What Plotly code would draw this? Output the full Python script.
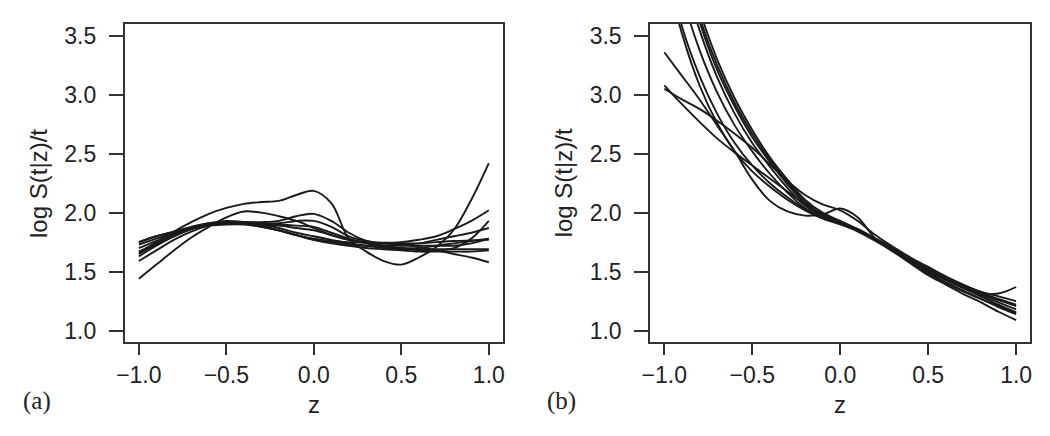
import plotly.graph_objects as go

# shared z grid
z = [-1.0, -0.9, -0.8, -0.7, -0.6, -0.5, -0.4, -0.3, -0.2, -0.1, 0.0,
     0.1, 0.2, 0.3, 0.4, 0.5, 0.6, 0.7, 0.8, 0.9, 1.0]

# panel (a) curves
a1 = [1.66, 1.75, 1.84, 1.92, 1.99, 2.04, 2.075, 2.09, 2.10, 2.15, 2.185, 2.08, 1.78, 1.67, 1.59, 1.56, 1.62, 1.71, 1.855, 2.11, 2.42]
a2 = [1.44, 1.56, 1.68, 1.79, 1.88, 1.96, 2.01, 2.00, 1.97, 1.93, 1.87, 1.81, 1.77, 1.75, 1.745, 1.75, 1.77, 1.80, 1.86, 1.93, 2.02]
a3 = [1.63, 1.72, 1.80, 1.86, 1.90, 1.92, 1.92, 1.92, 1.93, 1.97, 1.99, 1.93, 1.83, 1.76, 1.72, 1.70, 1.68, 1.68, 1.70, 1.78, 1.93]
a4 = [1.75, 1.80, 1.84, 1.88, 1.91, 1.92, 1.92, 1.91, 1.91, 1.93, 1.93, 1.88, 1.80, 1.76, 1.74, 1.73, 1.74, 1.77, 1.80, 1.83, 1.87]
a5 = [1.70, 1.76, 1.82, 1.87, 1.90, 1.92, 1.92, 1.91, 1.90, 1.89, 1.88, 1.83, 1.78, 1.74, 1.71, 1.70, 1.70, 1.72, 1.74, 1.76, 1.78]
a6 = [1.73, 1.78, 1.83, 1.87, 1.90, 1.91, 1.91, 1.90, 1.89, 1.87, 1.85, 1.81, 1.77, 1.75, 1.74, 1.73, 1.71, 1.68, 1.65, 1.62, 1.58]
a7 = [1.67, 1.74, 1.81, 1.87, 1.91, 1.93, 1.92, 1.90, 1.87, 1.83, 1.80, 1.77, 1.74, 1.72, 1.70, 1.69, 1.69, 1.69, 1.69, 1.69, 1.69]
a8 = [1.65, 1.73, 1.80, 1.86, 1.90, 1.92, 1.92, 1.89, 1.85, 1.81, 1.77, 1.75, 1.73, 1.72, 1.72, 1.72, 1.72, 1.72, 1.72, 1.74, 1.78]
a9 = [1.59, 1.68, 1.77, 1.84, 1.89, 1.91, 1.91, 1.88, 1.85, 1.81, 1.77, 1.74, 1.72, 1.70, 1.69, 1.68, 1.67, 1.67, 1.67, 1.67, 1.68]
a10 = [1.75, 1.80, 1.84, 1.87, 1.89, 1.90, 1.90, 1.88, 1.85, 1.81, 1.78, 1.76, 1.75, 1.745, 1.74, 1.74, 1.74, 1.75, 1.76, 1.765, 1.77]

# panel (b) curves
b1 = [3.36, 3.16, 2.96, 2.74, 2.52, 2.28, 2.10, 2.01, 1.975, 1.985, 2.035, 1.96, 1.78, 1.68, 1.59, 1.50, 1.43, 1.37, 1.31, 1.26, 1.21]
b2 = [3.05, 2.96, 2.88, 2.78, 2.67, 2.55, 2.41, 2.27, 2.15, 2.07, 2.02, 1.93, 1.81, 1.71, 1.62, 1.54, 1.46, 1.39, 1.33, 1.29, 1.25]
b3 = [3.08, 2.92, 2.77, 2.63, 2.51, 2.40, 2.29, 2.18, 2.07, 1.98, 1.92, 1.85, 1.77, 1.68, 1.58, 1.49, 1.41, 1.34, 1.27, 1.21, 1.15]
b4 = [4.50, 3.85, 3.38, 3.02, 2.74, 2.52, 2.33, 2.17, 2.04, 1.96, 1.91, 1.85, 1.77, 1.69, 1.60, 1.52, 1.44, 1.37, 1.315, 1.315, 1.37]
b5 = [4.10, 3.52, 3.08, 2.76, 2.52, 2.35, 2.22, 2.11, 2.02, 1.95, 1.90, 1.84, 1.76, 1.67, 1.57, 1.47, 1.39, 1.31, 1.24, 1.16, 1.09]
b6 = [4.20, 3.58, 3.16, 2.84, 2.59, 2.40, 2.25, 2.13, 2.03, 1.96, 1.905, 1.845, 1.77, 1.68, 1.58, 1.48, 1.40, 1.33, 1.27, 1.20, 1.14]
b7 = [4.70, 4.05, 3.55, 3.15, 2.84, 2.59, 2.39, 2.21, 2.06, 1.97, 1.915, 1.85, 1.77, 1.69, 1.60, 1.51, 1.43, 1.36, 1.30, 1.24, 1.18]
b8 = [4.80, 4.15, 3.62, 3.21, 2.90, 2.64, 2.43, 2.24, 2.08, 1.98, 1.92, 1.855, 1.775, 1.69, 1.60, 1.51, 1.43, 1.36, 1.29, 1.22, 1.155]
b9 = [4.90, 4.20, 3.66, 3.25, 2.93, 2.67, 2.45, 2.26, 2.09, 1.985, 1.925, 1.86, 1.78, 1.70, 1.61, 1.52, 1.45, 1.38, 1.32, 1.26, 1.21]
b10 = [5.00, 4.28, 3.72, 3.30, 2.97, 2.70, 2.47, 2.28, 2.11, 2.00, 1.93, 1.86, 1.78, 1.70, 1.61, 1.53, 1.45, 1.38, 1.32, 1.27, 1.22]

panel_a = [a1, a2, a3, a4, a5, a6, a7, a8, a9, a10]
panel_b = [b1, b2, b3, b4, b5, b6, b7, b8, b9, b10]

x_ticks = [-1.0, -0.5, 0.0, 0.5, 1.0]
x_ticktext = ["\u22121.0", "\u22120.5", "0.0", "0.5", "1.0"]
y_ticks = [1.0, 1.5, 2.0, 2.5, 3.0, 3.5]
y_ticktext = ["1.0", "1.5", "2.0", "2.5", "3.0", "3.5"]
y_title = "log S(t|z)/t"
x_title = "z"
panel_labels = ["(a)", "(b)"]

# page body has an 8px margin; build the figure inside it
OFF = 8
W, H = 1050 - OFF, 436 - OFF
def px(X):
    return (X - OFF) / W
def py(Y):
    return 1 - (Y - OFF) / H

INK = "#1a1a1a"
FONT = "Arial, Liberation Sans, sans-serif"

fig = go.Figure()
for ys in panel_a:
    fig.add_trace(go.Scatter(x=z, y=ys, mode="lines", xaxis="x", yaxis="y",
                             line=dict(color=INK, width=1.9, shape="spline", smoothing=1.0),
                             showlegend=False, hoverinfo="skip"))
for ys in panel_b:
    fig.add_trace(go.Scatter(x=z, y=ys, mode="lines", xaxis="x2", yaxis="y2",
                             line=dict(color=INK, width=1.9, shape="spline", smoothing=1.0),
                             showlegend=False, hoverinfo="skip"))

ydom = [py(343), py(23)]
common_x = dict(range=[-1.08, 1.08], tickvals=x_ticks, ticktext=x_ticktext,
                ticks="outside", ticklen=11, tickwidth=1.6, tickcolor="#333",
                showline=True, linewidth=2, linecolor="#333", mirror=True,
                showgrid=False, zeroline=False,
                tickfont=dict(family=FONT, size=23, color="#222"))
common_y = dict(range=[0.9, 3.6], tickvals=y_ticks, ticktext=y_ticktext,
                ticks="outside", ticklen=14, tickwidth=1.6, tickcolor="#333",
                showline=True, linewidth=2, linecolor="#333", mirror=True,
                showgrid=False, zeroline=False, domain=ydom, ticklabelstandoff=8,
                tickfont=dict(family=FONT, size=23, color="#222"))

fig.update_layout(
    width=W, height=H, margin=dict(l=0, r=0, t=0, b=0),
    paper_bgcolor="white", plot_bgcolor="white",
    xaxis=dict(domain=[px(117), px(499)], anchor="y", **common_x),
    yaxis=dict(anchor="x", **common_y),
    xaxis2=dict(domain=[px(648), px(1032)], anchor="y2", **common_x),
    yaxis2=dict(anchor="x2", **common_y),
)

anns = []
for cx, ytx, lab_x, lab in [(308, 29, 28, panel_labels[0]), (840, 560, 558, panel_labels[1])]:
    anns.append(dict(text=x_title, x=px(cx), y=py(405), xref="paper", yref="paper",
                     showarrow=False, xanchor="center", yanchor="middle",
                     font=dict(family=FONT, size=24, color="#222")))
    anns.append(dict(text=y_title, x=px(ytx), y=py(183), xref="paper", yref="paper",
                     showarrow=False, xanchor="center", yanchor="middle", textangle=-90,
                     font=dict(family=FONT, size=24, color="#222")))
    anns.append(dict(text=lab, x=px(lab_x), y=py(402), xref="paper", yref="paper",
                     showarrow=False, xanchor="center", yanchor="middle",
                     font=dict(family="Liberation Serif, Times New Roman, serif", size=25, color="#222")))
fig.update_layout(annotations=anns)

fig.write_html("out.html")
